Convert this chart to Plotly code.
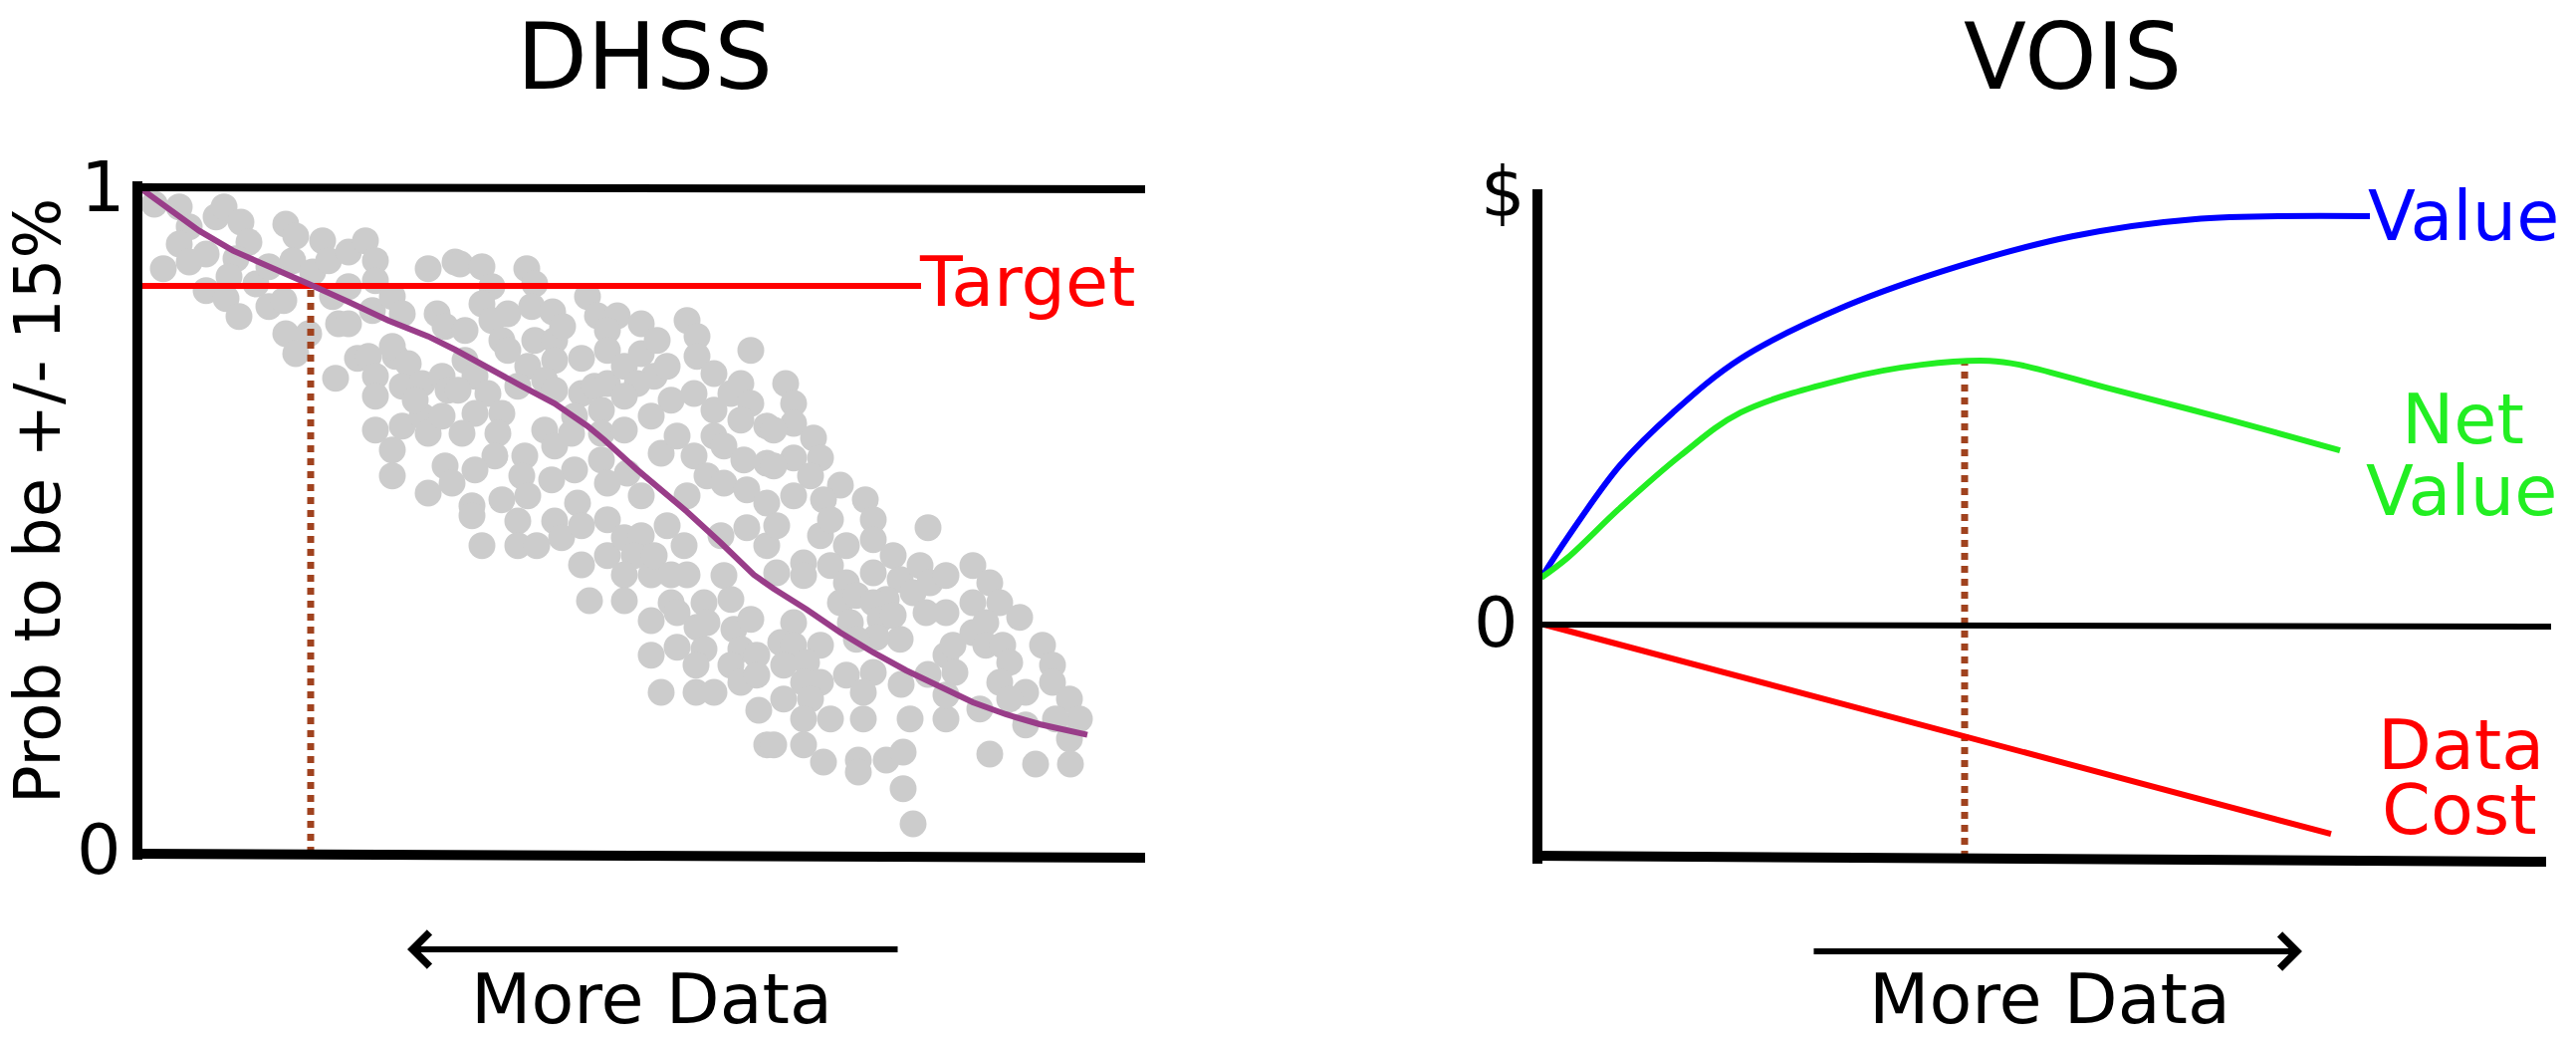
import plotly.graph_objects as go

W, H = 2587, 1046
FONT = "DejaVu Sans"

# ---------------- DHSS panel data ----------------
# x: relative amount of data (arbitrary units, 0..101), y: probability to be within +/-15%
dhss_x = [
    1.5, 4.0, 5.0, 4.0, 5.0, 2.4, 6.7, 7.7, 8.5, 10.2, 11.0, 9.7, 9.0, 6.7, 8.7, 10.0, 11.7, 13.0, 13.0, 14.7,
    15.7, 15.4, 14.5, 14.7, 15.7, 17.0, 17.4, 18.4, 19.0, 21.0, 22.7, 23.7, 23.7, 21.0, 19.4, 20.0, 21.0, 23.4,
    25.4, 26.4, 29.0, 31.7, 29.9, 30.7, 19.7, 21.9, 23.0, 23.7, 23.7, 25.7, 25.4, 27.0, 26.4, 28.4, 30.4, 31.0,
    23.7, 25.4, 26.4, 28.4, 29.0, 30.4, 25.4, 29.0, 30.7, 31.4, 27.7,
    32.2, 34.4, 35.4, 38.9, 39.7, 34.4, 35.4, 37.0, 39.4, 41.5, 32.7, 36.4, 37.0, 39.7, 41.7, 42.5, 45.0, 46.0,
    48.0, 47.0, 47.0, 44.4, 41.7, 39.0, 32.7, 33.7, 32.0, 35.0, 38.0, 40.7, 41.7, 44.4, 45.7, 47.0, 48.7, 50.4,
    50.4, 52.0, 51.7, 50.0, 53.0, 53.4, 51.4, 48.7, 46.4, 43.7, 40.7, 36.4, 33.7, 32.4, 36.0, 35.7, 38.7, 41.7,
    43.4, 46.4, 48.7, 46.4, 43.7, 41.4, 38.4, 33.7, 36.4, 33.4, 39.0, 44.0, 47.0, 49.0, 50.4, 52.4, 54.0, 55.0,
    56.0, 56.0, 55.7, 57.7, 57.7, 59.4, 60.4, 61.4, 61.4, 60.4, 63.0, 57.7, 58.7, 55.7, 60.7, 63.0, 57.0, 58.7,
    61.0, 55.0, 63.0,
    64.9, 65.7, 65.7, 63.7, 67.7, 65.7, 68.4, 63.7, 67.4, 70.4, 65.7, 68.7, 72.9,
    33.4, 34.4, 38.0, 38.0, 39.9, 41.7, 42.4, 44.4, 47.0, 44.4, 47.0, 48.7, 50.4, 49.7, 48.7, 51.4, 51.7, 53.0,
    54.7, 55.0, 53.4, 45.2, 48.7, 51.4, 53.4, 54.0, 56.7, 56.0, 57.0, 51.4, 54.0, 56.7, 55.9, 52.4, 55.9, 57.7,
    58.7, 59.4, 59.7, 61.4, 60.4, 59.4, 62.0, 60.4, 62.0, 61.0, 63.0, 62.2, 63.0, 58.4,
    64.0, 68.4, 69.4, 71.0, 73.7, 73.7, 79.2, 66.7, 69.4, 66.7, 64.0, 71.0, 70.4, 72.0, 73.7, 75.7, 76.4, 78.4,
    77.7, 79.4, 81.0, 83.7, 85.4, 83.7, 86.4, 88.4, 81.0, 79.0, 75.0, 73.7, 74.4, 75.7, 76.4, 74.0, 71.4, 72.0,
    68.4, 65.7, 64.4, 65.7, 64.7, 67.0, 71.0, 73.7, 72.7, 68.4, 66.7, 64.7, 67.4, 66.7, 69.4, 72.7, 77.4, 81.0,
    76.5, 79.2, 81.0, 81.9, 81.7, 83.7, 85.0, 85.0, 86.7, 87.4, 86.4, 89.0, 87.4, 84.4, 81.0, 89.0, 90.7, 91.7,
    91.7, 93.4, 94.4, 92.0, 93.4, 66.7, 68.7, 63.7, 72.2, 72.2, 75.0, 76.7, 76.7, 77.7, 85.4, 90.0, 93.5,
]
dhss_y = [
    0.978, 0.974, 0.944, 0.918, 0.891, 0.881, 0.903, 0.959, 0.974, 0.951, 0.921, 0.896, 0.869, 0.848, 0.836, 0.809, 0.858, 0.884, 0.824, 0.948,
    0.930, 0.893, 0.833, 0.783, 0.753, 0.783, 0.876, 0.923, 0.893, 0.906, 0.923, 0.893, 0.863, 0.854, 0.839, 0.798, 0.798, 0.818,
    0.839, 0.813, 0.881, 0.891, 0.813, 0.794, 0.716, 0.746, 0.749, 0.719, 0.689, 0.749, 0.764, 0.738, 0.704, 0.708, 0.719, 0.698,
    0.638, 0.608, 0.644, 0.659, 0.633, 0.659, 0.569, 0.543, 0.584, 0.558, 0.683,
    0.888, 0.884, 0.854, 0.881, 0.858, 0.828, 0.803, 0.813, 0.824, 0.816, 0.788, 0.773, 0.758, 0.773, 0.773, 0.794, 0.839, 0.810,
    0.810, 0.788, 0.758, 0.746, 0.743, 0.734, 0.743, 0.719, 0.698, 0.693, 0.704, 0.713, 0.698, 0.693, 0.704, 0.708, 0.734, 0.753,
    0.798, 0.773, 0.719, 0.708, 0.734, 0.683, 0.659, 0.689, 0.668, 0.659, 0.638, 0.663, 0.663, 0.633, 0.633, 0.599, 0.599, 0.614,
    0.633, 0.633, 0.638, 0.593, 0.578, 0.563, 0.569, 0.578, 0.533, 0.524, 0.539, 0.528, 0.558, 0.573, 0.539, 0.603, 0.629, 0.803,
    0.779, 0.749, 0.693, 0.723, 0.668, 0.693, 0.708, 0.758, 0.678, 0.653, 0.644, 0.629, 0.614, 0.599, 0.593, 0.588, 0.569, 0.558,
    0.548, 0.539, 0.528,
    0.708, 0.678, 0.648, 0.638, 0.626, 0.596, 0.596, 0.584, 0.569, 0.555, 0.539, 0.533, 0.533,
    0.509, 0.464, 0.501, 0.464, 0.464, 0.501, 0.476, 0.494, 0.503, 0.435, 0.449, 0.476, 0.479, 0.449, 0.420, 0.420, 0.449, 0.494,
    0.464, 0.420, 0.420, 0.381, 0.381, 0.351, 0.378, 0.363, 0.378, 0.341, 0.348, 0.299, 0.311, 0.308, 0.284, 0.243, 0.243, 0.243,
    0.419, 0.383, 0.338, 0.353, 0.308, 0.284, 0.299, 0.258, 0.269, 0.491, 0.464, 0.216, 0.164, 0.479,
    0.494, 0.479, 0.503, 0.464, 0.503, 0.473, 0.491, 0.438, 0.434, 0.419, 0.423, 0.408, 0.378, 0.389, 0.423, 0.449, 0.413, 0.434,
    0.393, 0.408, 0.419, 0.434, 0.408, 0.378, 0.378, 0.356, 0.363, 0.363, 0.383, 0.378, 0.353, 0.359, 0.323, 0.326, 0.348, 0.323,
    0.314, 0.348, 0.318, 0.314, 0.284, 0.288, 0.269, 0.273, 0.243, 0.258, 0.258, 0.233, 0.233, 0.203, 0.203, 0.203, 0.203, 0.203,
    0.255, 0.270, 0.299, 0.273, 0.314, 0.333, 0.348, 0.314, 0.314, 0.288, 0.258, 0.243, 0.233, 0.218, 0.239, 0.194, 0.314, 0.284,
    0.258, 0.233, 0.203, 0.203, 0.173, 0.164, 0.138, 0.164, 0.141, 0.123, 0.141, 0.153, 0.098, 0.045, 0.150, 0.135, 0.135,
]

trend_x = [0.3, 3.0, 6.0, 9.4, 13.0, 17.0, 21.0, 25.0, 29.0, 31.7, 38.4, 41.7, 45.0, 46.7, 50.0, 55.0,
           58.4, 61.7, 63.7, 67.0, 70.4, 73.7, 77.0, 80.4, 83.7, 87.0, 90.4, 95.2]
trend_y = [1.0, 0.971, 0.938, 0.908, 0.885, 0.858, 0.831, 0.803, 0.779, 0.759, 0.704, 0.678, 0.644, 0.623, 0.578, 0.515,
           0.468, 0.420, 0.399, 0.368, 0.333, 0.303, 0.276, 0.251, 0.228, 0.210, 0.195, 0.179]

target_prob = 0.855
target_line_x = [0.0, 78.5]
chosen_x = 17.2

dhss_xrange = [0, 101]
dhss_yrange = [0, 1.0035]

# ---------------- VOIS panel data ----------------
value_x = [0.3, 2.9, 8.2, 13.5, 20.3, 30.9, 42.3, 53.6, 65.7, 83.5]
value_y = [0.108, 0.199, 0.366, 0.487, 0.611, 0.732, 0.824, 0.892, 0.931, 0.938]
net_x = [0.3, 2.9, 8.2, 14.3, 20.3, 30.9, 38.5, 45.3, 48.3, 57.4, 68.8, 80.5]
net_y = [0.108, 0.153, 0.268, 0.389, 0.487, 0.565, 0.597, 0.606, 0.597, 0.542, 0.474, 0.400]
cost_x = [0.6, 79.6]
cost_y = [0.0, -0.481]
optimum_x = 42.8
optimum_y = 0.604

vois_xrange = [0, 101.5]
vois_yrange = [-0.5355, 1.0]

# ---------------- layout geometry (pixels) ----------------
def px(x):
    return x / W

def py(y):
    return 1 - y / H

def padded(p0, p1, rng, pad0, pad1):
    """Extend a pixel span and its data range by some pixels so that thick lines are not clipped."""
    s = (rng[1] - rng[0]) / (p1 - p0)
    return [rng[0] - pad0 * s, rng[1] + pad1 * s], [p0 - pad0, p1 + pad1]

# left panel: x 140..1150 px, y 857(bottom)..188(top) px
lx_rng, lx_px = padded(140, 1150, dhss_xrange, 40, 30)
ly_rng, ly_px = padded(0, 669, dhss_yrange, 30, 30)
# right panel: x 1545..2560 px, y 861(bottom)..190(top) px
rx_rng, rx_px = padded(1545, 2560, vois_xrange, 30, 25)
ry_rng, ry_px = padded(0, 671, vois_yrange, 30, 30)

fig = go.Figure()

GRAY = "#cccccc"
BROWN = "#a0421e"
GREEN = "#22ee22"

# DHSS traces
fig.add_trace(go.Scatter(x=dhss_x, y=dhss_y, mode="markers", xaxis="x", yaxis="y",
                         marker=dict(size=27, color=GRAY, line=dict(width=0)),
                         cliponaxis=False, showlegend=False, hoverinfo="skip"))
fig.add_trace(go.Scatter(x=target_line_x, y=[target_prob, target_prob], mode="lines", xaxis="x", yaxis="y",
                         line=dict(color="#ff0000", width=6), showlegend=False))
fig.add_trace(go.Scatter(x=[chosen_x, chosen_x], y=[dhss_yrange[0], target_prob], mode="lines", xaxis="x", yaxis="y",
                         line=dict(color=BROWN, width=7, dash="7px,6px"), showlegend=False))
fig.add_trace(go.Scatter(x=trend_x, y=trend_y, mode="lines", xaxis="x", yaxis="y",
                         line=dict(color="#993d89", width=6), showlegend=False))

# VOIS traces
fig.add_trace(go.Scatter(x=[optimum_x, optimum_x], y=[vois_yrange[0], optimum_y], mode="lines", xaxis="x2", yaxis="y2",
                         line=dict(color=BROWN, width=7, dash="7px,6px"), showlegend=False))
fig.add_trace(go.Scatter(x=value_x, y=value_y, mode="lines", xaxis="x2", yaxis="y2",
                         line=dict(color="#0000ff", width=6, shape="spline"), showlegend=False))
fig.add_trace(go.Scatter(x=net_x, y=net_y, mode="lines", xaxis="x2", yaxis="y2",
                         line=dict(color=GREEN, width=6, shape="spline"), showlegend=False))
fig.add_trace(go.Scatter(x=cost_x, y=cost_y, mode="lines", xaxis="x2", yaxis="y2",
                         line=dict(color="#ff0000", width=6), showlegend=False))

ax_common = dict(visible=False, fixedrange=True, showgrid=False, zeroline=False)

ldy = (dhss_yrange[1] - dhss_yrange[0]) / 669.0   # data units per pixel (left, y)
ldx = (dhss_xrange[1] - dhss_xrange[0]) / 1010.0
rdy = (vois_yrange[1] - vois_yrange[0]) / 671.0
rdx = (vois_xrange[1] - vois_xrange[0]) / 1015.0

shapes = [
    # DHSS frame
    dict(type="line", xref="x", yref="y", x0=-2 * ldx, x1=-2 * ldx, y0=-6 * ldy, y1=dhss_yrange[1] + 6 * ldy,
         line=dict(color="black", width=10)),
    dict(type="line", xref="x", yref="y", x0=-2 * ldx, x1=dhss_xrange[1], y0=dhss_yrange[1],
         y1=dhss_yrange[1] - 2 * ldy, line=dict(color="black", width=8)),
    dict(type="line", xref="x", yref="y", x0=-7 * ldx, x1=dhss_xrange[1], y0=dhss_yrange[0],
         y1=dhss_yrange[0] - 4 * ldy, line=dict(color="black", width=10)),
    # VOIS frame
    dict(type="line", xref="x2", yref="y2", x0=-1 * rdx, x1=-1 * rdx, y0=vois_yrange[0] - 6 * rdy, y1=vois_yrange[1],
         line=dict(color="black", width=10)),
    dict(type="line", xref="x2", yref="y2", x0=-6 * rdx, x1=vois_xrange[1] - 3 * rdx, y0=vois_yrange[0] + 2 * rdy,
         y1=vois_yrange[0] - 4 * rdy, line=dict(color="black", width=10)),
    dict(type="line", xref="x2", yref="y2", x0=0, x1=vois_xrange[1] + 2 * rdx, y0=0, y1=-2 * rdy,
         line=dict(color="black", width=6)),
]

big = dict(family=FONT, size=92, color="black")
lab = dict(family=FONT, size=70, color="black")

def colored(c):
    return dict(family=FONT, size=70, color=c)

annotations = [
    dict(text="DHSS", x=px(647), y=py(2), xref="paper", yref="paper", showarrow=False, font=big,
         xanchor="center", yanchor="top"),
    dict(text="VOIS", x=px(2081), y=py(2), xref="paper", yref="paper", showarrow=False, font=big,
         xanchor="center", yanchor="top"),
    dict(text="1", x=px(103), y=py(188), xref="paper", yref="paper", showarrow=False, font=lab,
         xanchor="center", yanchor="middle"),
    dict(text="0", x=px(99), y=py(853), xref="paper", yref="paper", showarrow=False, font=lab,
         xanchor="center", yanchor="middle"),
    dict(text="$", x=px(1510), y=py(193), xref="paper", yref="paper", showarrow=False, font=lab,
         xanchor="center", yanchor="middle"),
    dict(text="0", x=px(1502), y=py(625), xref="paper", yref="paper", showarrow=False, font=lab,
         xanchor="center", yanchor="middle"),
    dict(text="Prob to be +/- 15%", x=px(38), y=py(503), xref="paper", yref="paper", showarrow=False,
         font=dict(family=FONT, size=64, color="black"), textangle=-90, xanchor="center", yanchor="middle"),
    dict(text="Target", x=target_line_x[1], y=target_prob, xref="x", yref="y", showarrow=False,
         font=colored("#ff0000"), xanchor="left", yanchor="middle", xshift=-4, yshift=4),
    dict(text="Value", x=value_x[-1], y=value_y[-1], xref="x2", yref="y2", showarrow=False,
         font=colored("#0000ff"), xanchor="left", yanchor="middle", xshift=-4),
    dict(text="Net", x=92.8, y=0.472, xref="x2", yref="y2", showarrow=False,
         font=colored(GREEN), xanchor="center", yanchor="middle"),
    dict(text="Value", x=92.7, y=0.306, xref="x2", yref="y2", showarrow=False,
         font=colored(GREEN), xanchor="center", yanchor="middle"),
    dict(text="Data", x=92.6, y=-0.276, xref="x2", yref="y2", showarrow=False,
         font=colored("#ff0000"), xanchor="center", yanchor="middle"),
    dict(text="Cost", x=92.5, y=-0.426, xref="x2", yref="y2", showarrow=False,
         font=colored("#ff0000"), xanchor="center", yanchor="middle"),
    dict(text="More Data", x=px(654), y=py(1003), xref="paper", yref="paper", showarrow=False, font=lab,
         xanchor="center", yanchor="middle"),
    dict(text="More Data", x=px(2058), y=py(1003), xref="paper", yref="paper", showarrow=False, font=lab,
         xanchor="center", yanchor="middle"),
    # arrows
    dict(text="", x=px(409), y=py(953), xref="paper", yref="paper", showarrow=True, ax=494, ay=0,
         arrowhead=4, arrowwidth=6, arrowsize=1.1, arrowcolor="black"),
    dict(text="", x=px(2312), y=py(955), xref="paper", yref="paper", showarrow=True, ax=-492, ay=0,
         arrowhead=4, arrowwidth=6, arrowsize=1.1, arrowcolor="black"),
]

fig.update_layout(
    width=W, height=H, autosize=False,
    margin=dict(l=0, r=0, t=0, b=0),
    paper_bgcolor="white", plot_bgcolor="rgba(0,0,0,0)",
    xaxis=dict(domain=[px(lx_px[0]), px(lx_px[1])], range=lx_rng, anchor="y", **ax_common),
    yaxis=dict(domain=[py(857 + 30), py(188 - 30)], range=ly_rng, anchor="x", **ax_common),
    xaxis2=dict(domain=[px(rx_px[0]), px(rx_px[1])], range=rx_rng, anchor="y2", **ax_common),
    yaxis2=dict(domain=[py(861 + 30), py(190 - 30)], range=ry_rng, anchor="x2", **ax_common),
    shapes=shapes,
    annotations=annotations,
    showlegend=False,
)

fig.write_html("out.html")
